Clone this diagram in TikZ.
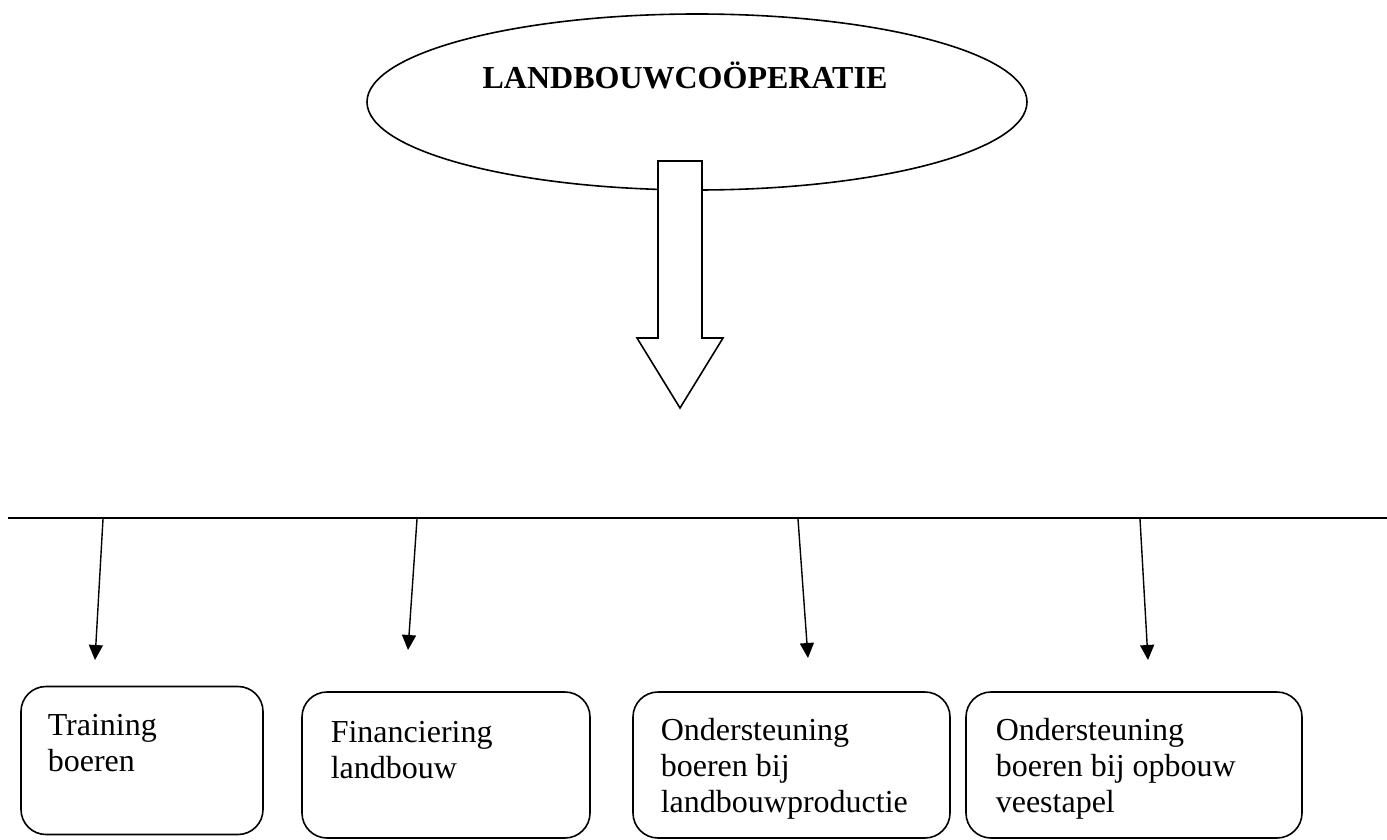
\documentclass[tikz,border=0pt]{standalone}
\usepackage{fontspec}
\setmainfont{Liberation Serif}
\usetikzlibrary{shapes.geometric,arrows.meta}
\begin{document}
\begin{tikzpicture}[x=0.5pt,y=-0.5pt,
  line width=0.8pt,
  oval/.style={draw, ellipse, minimum width=330pt, minimum height=88pt, inner sep=0pt},
  rbox/.style={draw, rounded corners=12.5pt, inner sep=0pt},
  lbl/.style={anchor=base west, inner sep=0pt, font=\fontsize{16}{18.2}\selectfont},
  conn/.style={-{Triangle[length=7.5pt,width=7pt]}, line width=0.7pt},
  blockarrow/.style={draw, fill=white, line width=0.8pt},
]
\useasboundingbox (0,0) rectangle (1387,840);
% top ellipse
\node[oval] (coop) at (697,102) {};
\node[anchor=base, inner sep=0pt, font=\fontsize{16}{18}\selectfont\bfseries] (title) at (685,89) {LANDBOUWCOÖPERATIE};
% block arrow
\draw[blockarrow] (658,161) -- (702,161) -- (702,338) -- (723,338) -- (680,408) -- (637,338) -- (658,338) -- cycle;
% horizontal line
\coordinate (hl) at (8,518);
\coordinate (hr) at (1387,518);
\draw (hl) -- (hr);
% arrow endpoints
\coordinate (s1) at (103,519); \coordinate (e1) at (95,660);
\coordinate (s2) at (417,519); \coordinate (e2) at (408,650);
\coordinate (s3) at (798,519); \coordinate (e3) at (808,658);
\coordinate (s4) at (1140,519); \coordinate (e4) at (1148,660);
\draw[conn] (s1) -- (e1);
\draw[conn] (s2) -- (e2);
\draw[conn] (s3) -- (e3);
\draw[conn] (s4) -- (e4);
% boxes
\node[rbox, minimum width=121pt, minimum height=74pt] (b1) at (142,760.5) {};
\node[rbox, minimum width=144pt, minimum height=73pt] (b2) at (446,765) {};
\node[rbox, minimum width=158.5pt, minimum height=73pt] (b3) at (791.5,765) {};
\node[rbox, minimum width=168pt, minimum height=73pt] (b4) at (1134,765) {};
% texts
\node[lbl] (t1) at (47,735) {\parbox[t]{110pt}{\raggedright Training\\boeren}};
\node[lbl] (t2) at (330,742) {\parbox[t]{130pt}{\raggedright Financiering\\landbouw}};
\node[lbl] (t3) at (660,740) {\parbox[t]{150pt}{\raggedright Ondersteuning\\boeren bij\\landbouwproductie}};
\node[lbl] (t4) at (995,740) {\parbox[t]{150pt}{\raggedright Ondersteuning\\boeren bij opbouw\\veestapel}};
\end{tikzpicture}
\end{document}
